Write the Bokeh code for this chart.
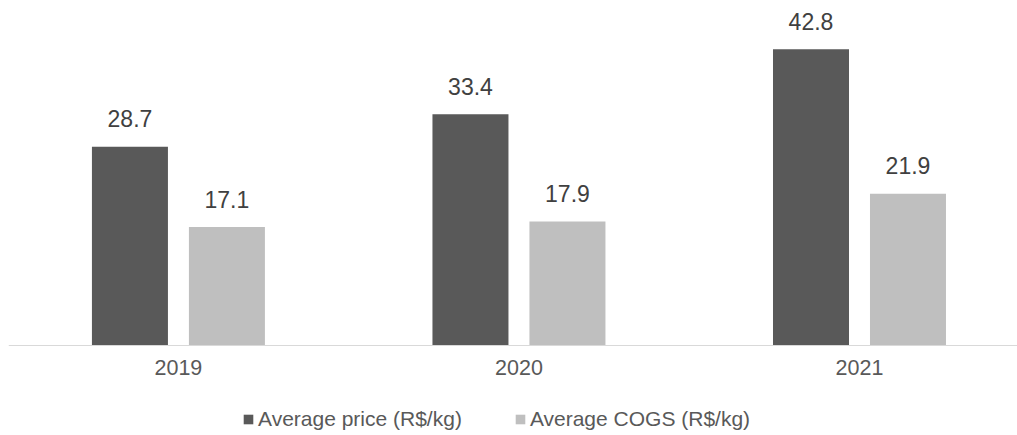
from bokeh.plotting import figure
from bokeh.models import ColumnDataSource, FixedTicker, Legend, LegendItem, LinearAxis
from bokeh.transform import dodge
from bokeh.core.properties import value
from bokeh.embed import file_html
from bokeh.resources import INLINE

# Data
years = ["2019", "2020", "2021"]
avg_price = [28.7, 33.4, 42.8]   # R$/kg
avg_cogs = [17.1, 17.9, 21.9]    # R$/kg
series_names = ["Average price (R$/kg)", "Average COGS (R$/kg)"]

FONT = "Liberation Sans"
DARK = "#595959"
LIGHT = "#bfbfbf"

idx = list(range(len(years)))
src = ColumnDataSource(dict(
    x=idx,
    price=avg_price,
    cogs=avg_cogs,
    price_lbl=[f"{v:.1f}" for v in avg_price],
    cogs_lbl=[f"{v:.1f}" for v in avg_cogs],
))

# the frame fills the page; the value axis extends below zero to leave room
# for the category labels and the legend
p = figure(
    width=1017, height=435, frame_width=1009, frame_height=435,
    x_range=(-0.499, 2.464), y_range=(-13.0, 49.83),
    output_backend="svg", toolbar_location=None,
    x_axis_type=None, y_axis_type=None,
    min_border_left=8, min_border_right=0, min_border_top=0, min_border_bottom=0,
)

off = 0.1424
bw = 0.2232
r1 = p.vbar(x=dodge("x", -off), top="price", bottom=0, width=bw, source=src,
            fill_color=DARK, line_color=None)
r2 = p.vbar(x=dodge("x", off), top="cogs", bottom=0, width=bw, source=src,
            fill_color=LIGHT, line_color=None)

# value labels above each bar
for col, lbl, dx in (("price", "price_lbl", -off), ("cogs", "cogs_lbl", off)):
    p.text(x=dodge("x", dx), y=col, text=lbl, source=src,
           text_align="center", text_baseline="alphabetic", y_offset=-28,
           text_font=value(FONT), text_font_size="23px", text_color="#404040")

# category axis pinned at zero
xa = LinearAxis(fixed_location=0)
xa.ticker = FixedTicker(ticks=idx)
xa.major_label_overrides = {i: y for i, y in zip(idx, years)}
xa.major_tick_line_color = None
xa.minor_tick_line_color = None
xa.major_tick_out = 0
xa.major_tick_in = 0
xa.axis_line_color = "#d9d9d9"
xa.axis_line_width = 1
xa.major_label_standoff = 15
xa.major_label_text_font = FONT
xa.major_label_text_font_size = "21.5px"
xa.major_label_text_color = DARK
p.add_layout(xa, "below")

p.xgrid.visible = False
p.ygrid.visible = False
p.outline_line_color = None

legend = Legend(
    items=[LegendItem(label=series_names[0], renderers=[r1]),
           LegendItem(label=series_names[1], renderers=[r2])],
    orientation="horizontal", location=(234, 4),
    glyph_width=12, glyph_height=12, label_standoff=4, spacing=52,
    label_text_font=FONT, label_text_font_size="21px", label_text_color=DARK,
    border_line_color=None, background_fill_alpha=0,
    padding=0, margin=0,
)
p.add_layout(legend, "center")

open("out.html", "w").write(file_html(p, INLINE))
